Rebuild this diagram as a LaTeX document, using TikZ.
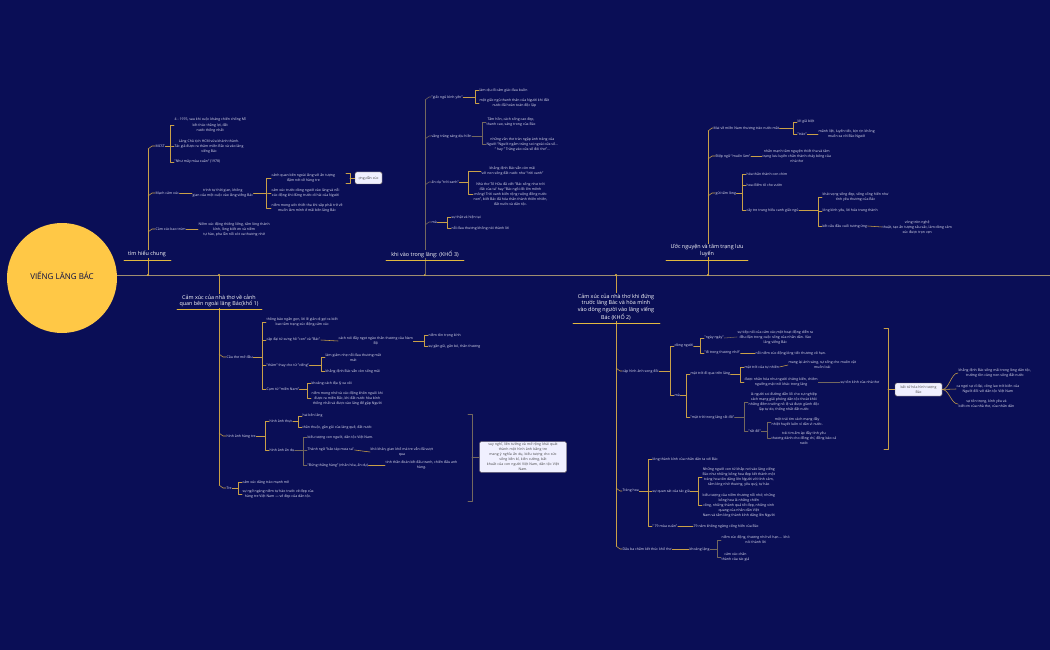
\documentclass[tikz,border=0pt]{standalone}
\usepackage{fontspec}
\setmainfont{Open Sans}
\usepackage{xcolor}
\usepackage{tikz}
\usetikzlibrary{positioning}

\definecolor{nenxanh}{RGB}{10,14,86}
\definecolor{vang}{RGB}{201,160,72}
\definecolor{vangdam}{RGB}{226,184,64}
\definecolor{xam}{RGB}{116,104,94}
\definecolor{truc}{RGB}{160,142,112}
\definecolor{chu}{RGB}{228,228,244}
\definecolor{tron}{RGB}{255,200,70}

\begin{document}
\begin{tikzpicture}[
    x=1pt, y=-1pt,
    line join=round,
    line cap=round
  ]

  \tikzset{
      nd/.style={text=chu, font=\fontsize{3.5}{5}\selectfont, align=center, inner sep=0.4pt, anchor=west},
      tieude/.style={text=white, font=\fontsize{5.4}{6.7}\selectfont, align=center, fill=nenxanh, inner sep=0.8pt},
      br/.style={draw=vang, line width=0.55pt},
      brx/.style={draw=xam, line width=0.55pt},
      gach/.style={draw=vangdam, line width=0.9pt},
      hop/.style={fill=white!94!blue, draw=xam, rounded corners=1.5pt, text=black!75,
                  font=\fontsize{3.5}{5}\selectfont, align=center, inner sep=1.5pt}
  }

  % 1. Nền và trục chính
  \useasboundingbox (0,0) rectangle (1050,650);
  \fill[nenxanh] (0,0) rectangle (1050,650);
  \draw[draw=truc, line width=0.8pt] (110,275) -- (1050,275);
  \fill[tron] (62,278) circle[radius=55];
  \node[text=nenxanh!80!black, font=\fontsize{8}{9}\selectfont] (goc) at (62,276) {VIẾNG LĂNG BÁC};
  \foreach \x in {148,425,708,219,616}
    \fill[vangdam] (\x,275) circle[radius=1.2];

  % 2. Nhánh "tìm hiểu chung"
  \coordinate (sA) at (148,0);
  \coordinate (bA1) at (170,0);
  \coordinate (bA2) at (266,0);
  \coordinate (bA3) at (350,0);
  \draw[br] (148,275) -- (148,149);
  \node[tieude] (tA) at (147,254) {tìm hiểu chung};
  \draw[gach] (124,260) -- (171,260);

  \node[nd] (mcst) at (155,146) {MCST};
  \node[nd] (a11) at (174,125) {4 - 1976, sau khi cuộc kháng chiến chống Mĩ\\kết thúc thắng lợi, đất\\nước thống nhất};
  \node[nd] (a12) at (174,146) {Lăng Chủ tịch HCM vừa khánh thành.\\Tác giả được ra thăm miền Bắc và vào lăng\\viếng Bác};
  \node[nd] (a13) at (174,162) {"Như mây mùa xuân" (1978)};
  \node[nd] (mach) at (155,193) {Mạch cảm xúc};
  \node[nd] (a21) at (192,193) {trình tự thời gian, không\\gian của một cuộc vào lăng viếng Bác};
  \node[nd] (a211) at (271,178) {cảnh quan bên ngoài lăng với ấn tượng\\đậm nét về hàng tre};
  \node[nd] (a212) at (271,193) {cảm xúc trước dòng người vào lăng và nỗi\\xúc động khi đứng trước di hài của Người};
  \node[nd] (a213) at (271,208) {niềm mong ước thiết tha khi sắp phải trở về\\muốn làm mình ở mãi bên lăng Bác};
  \node[hop, minimum width=27pt, minimum height=12pt] (gd) at (368.5,178) {ợng,dẫn xúc};
  \node[nd] (baotrum) at (155,229) {Cảm xúc bao trùm};
  \node[nd] (a31) at (198,229) {Niềm xúc động thiêng liêng, tấm lòng thành\\kính, lòng biết ơn và niềm\\tự hào, pha lẫn nỗi xót xa thương nhớ};

  \foreach \n in {mcst,mach,baotrum}
    \draw[br] ([yshift=-3pt]sA |- \n.west) -- ([xshift=4pt]sA |- \n.west) -- (\n.west);
  \foreach \n in {a11,a12,a13}
    \draw[br] (mcst.east) -- (mcst.east -| bA1) |- (\n.west);
  \draw[br] (mach.east) -- (a21.west);
  \foreach \n in {a211,a212,a213}
    \draw[br] (a21.east) -- (a21.east -| bA2) |- (\n.west);
  \draw[br] ([xshift=-4pt]bA3 |- a211.north) -- (bA3 |- a211.north) -- (bA3 |- a211.south) -- ([xshift=-4pt]bA3 |- a211.south);
  \draw[br] (bA3 |- gd.west) -- (gd.west);
  \draw[br] (baotrum.east) -- (a31.west);

  % 3. Nhánh "khi vào trong lăng" (khổ 3)
  \coordinate (sB) at (425,0);
  \coordinate (bB1) at (475,0);
  \coordinate (bB2) at (482,0);
  \coordinate (bB3) at (468,0);
  \coordinate (bB4) at (447,0);
  \draw[brx] (425,275) -- (425,100);
  \node[tieude] (tB) at (425,254) {khi vào trong lăng: (KHỔ 3)};
  \draw[gach] (386,260) -- (464,260);

  \node[nd] (giacngu) at (431,97) {"giấc ngủ bình yên"};
  \node[nd] (b11) at (479,90) {làm dịu đi cảm giác đau buồn};
  \node[nd] (b12) at (479,103) {một giấc ngủ thanh thản của Người khi đất\\nước đã hoàn toàn độc lập};
  \node[nd] (vangtrang) at (431,136) {vầng trăng sáng dịu hiền};
  \node[nd] (b21) at (486,122) {Tâm hồn, cách sống cao đẹp,\\thanh cao, sáng trong của Bác};
  \node[nd] (b22) at (486,144) {những vần thơ tràn ngập ánh trăng của\\Người "Người ngắm trăng soi ngoài cửa sổ...\\" hay " Trăng vào cửa sổ đòi thơ"...};
  \node[nd] (troixanh) at (431,182) {ẩn dụ "trời xanh"};
  \node[nd] (b31) at (481,171) {khẳng định Bác vẫn còn mãi\\với non sông đất nước như "trời xanh"};
  \node[nd] (b32) at (473,194) {Nhà thơ Tố Hữu đã viết "Bác sống như trời\\đất của ta" hay "Bác ngồi đó lớn mênh\\mông/ Trời xanh biển rộng ruộng đồng nước\\non", biết Bác đã hóa thân thành thiên nhiên,\\đất nước và dân tộc.};
  \node[nd] (maB) at (431,222) {mà};
  \node[nd] (b41) at (451,217) {sự thật và hiện tại};
  \node[nd] (b42) at (451,228) {nỗi đau thương không nói thành lời};

  \foreach \n in {giacngu,vangtrang,troixanh,maB}
    \draw[brx] ([yshift=-3pt]sB |- \n.west) -- ([xshift=4pt]sB |- \n.west) -- (\n.west);
  \foreach \n in {b11,b12}
    \draw[br] (giacngu.east) -- (giacngu.east -| bB1) |- (\n.west);
  \foreach \n in {b21,b22}
    \draw[brx] (vangtrang.east) -- (vangtrang.east -| bB2) |- (\n.west);
  \foreach \n in {b31,b32}
    \draw[br] (troixanh.east) -- (troixanh.east -| bB3) |- (\n.west);
  \foreach \n in {b41,b42}
    \draw[br] (maB.east) -- (maB.east -| bB4) |- (\n.west);

  % 4. Nhánh "Ước nguyện và tâm trạng lưu luyến"
  \coordinate (sC) at (708,0);
  \coordinate (bC1) at (793,0);
  \coordinate (bC3) at (742,0);
  \coordinate (bC33) at (818,0);
  \draw[br] (708,275) -- (708,131);
  \node[tieude] (tC) at (707,250.5) {Ước nguyện và tâm trạng lưu\\luyến};
  \draw[gach] (666,260) -- (748,260);

  \node[nd] (maive) at (713,128) {Mai về miền Nam thương trào nước mắt};
  \node[nd] (c11) at (797,122) {lời giã biệt};
  \node[nd] (c12) at (797,134) {"trào"};
  \node[nd] (c121) at (818,134) {mãnh liệt, luyến tiếc, bịn rịn không\\muốn xa rời Bác Người};
  \node[nd] (diepngu) at (715,156) {Điệp ngữ "muốn làm"};
  \node[nd] (c21) at (762,156) {nhấn mạnh tâm nguyện thiết tha và tâm\\trạng lưu luyến chân thành cháy bỏng của\\nhà thơ};
  \node[nd] (guitam) at (715,193) {gửi tấm lòng};
  \node[nd] (c31) at (746,174) {hóa thân thành con chim};
  \node[nd] (c32) at (746,185) {hoa điểm tô cho vườn};
  \node[nd] (c33) at (746,210) {cây tre trung hiếu canh giấc ngủ};
  \node[nd] (c331) at (822,197) {khát vọng sống đẹp, sống cống hiến như\\tình yêu thương của Bác};
  \node[nd] (c332) at (822,211) {lòng kính yêu, lời hứa trung thành};
  \node[nd] (c333) at (822,226) {kết cấu đầu cuối tương ứng};
  \node[nd] (c3331) at (882,227) {vòng tròn nghệ\\thuật, tạo ấn tượng sâu sắc, làm dòng cảm\\xúc được trọn vẹn};

  \foreach \n in {maive,diepngu,guitam}
    \draw[br] ([yshift=-3pt]sC |- \n.west) -- ([xshift=4pt]sC |- \n.west) -- (\n.west);
  \foreach \n in {c11,c12}
    \draw[br] (maive.east) -- (maive.east -| bC1) |- (\n.west);
  \draw[br] (c12.east) -- (c121.west);
  \draw[br] (diepngu.east) -- (c21.west);
  \foreach \n in {c31,c32,c33}
    \draw[br] (guitam.east) -- (guitam.east -| bC3) |- (\n.west);
  \foreach \n in {c331,c332,c333}
    \draw[br] (c33.east) -- (c33.east -| bC33) |- (\n.west);
  \draw[br] (c333.east) -- (c3331.west);

  % 5. Nhánh khổ 1
  \coordinate (sD) at (219,0);
  \coordinate (bD1) at (262,0);
  \coordinate (bD12) at (424,0);
  \coordinate (bD13) at (321,0);
  \coordinate (bD14) at (307,0);
  \coordinate (bD2) at (265,0);
  \coordinate (bD21) at (298,0);
  \coordinate (bD22) at (303,0);
  \coordinate (bD3) at (238,0);
  \draw[br] (219,275) -- (219,485);
  \node[tieude] (tD) at (219,301) {Cảm xúc của nhà thơ về cảnh\\quan bên ngoài lăng Bác(khổ 1)};
  \draw[gach] (177,309) -- (262,309);

  \node[nd] (cautho) at (226,357) {Câu thơ mở đầu};
  \node[nd] (d11) at (266,322) {thông báo ngắn gọn, lời lẽ giản dị gợi ra biết\\bao tâm trạng xúc động,cảm xúc};
  \node[nd] (d12) at (266,340) {cặp đại từ xưng hô "con" và "Bác"};
  \node[nd] (d121) at (338,341) {cách nói đầy ngọt ngào thân thương của Nam\\Bộ};
  \node[nd] (d1211) at (428,335) {niềm tôn trọng kính};
  \node[nd] (d1212) at (428,346) {sự gần gũi, gắn bó, thân thương};
  \node[nd] (d13) at (266,365) {"thăm" thay cho từ "viếng"};
  \node[nd] (d131) at (325,357) {làm giảm nhẹ nỗi đau thương mất\\mát};
  \node[nd] (d132) at (325,371) {khẳng định Bác vẫn còn sống mãi};
  \node[nd] (d14) at (266,389) {Cụm từ "miền Nam"};
  \node[nd] (d141) at (311,383) {khoảng cách địa lý xa xôi};
  \node[nd] (d142) at (311,398) {niềm mong nhớ và xúc động khôn nguôi khi\\được ra miền Bắc, khi đất nước hòa bình\\thống nhất và được vào lăng để gặp Người};

  \node[nd] (hangtre) at (226,436) {hình ảnh hàng tre};
  \node[nd] (d21) at (269,421) {hình ảnh thực};
  \node[nd] (d211) at (302,416) {hai bên lăng};
  \node[nd] (d212) at (302,427) {thân thuộc, gần gũi của làng quê, đất nước};
  \node[nd] (d22) at (269,450) {hình ảnh ẩn dụ};
  \node[nd] (d221) at (307,437) {biểu tượng con người, dân tộc Việt Nam.};
  \node[nd] (d222) at (307,450) {Thành ngữ "bão táp mưa sa"};
  \node[nd] (d2221) at (370,452) {khó khăn, gian khổ mà tre vẫn đã vượt\\qua};
  \node[nd] (d223) at (307,465) {"Đứng thẳng hàng" (nhân hóa, ẩn dụ)};
  \node[nd] (d2231) at (385,465) {tinh thần đoàn kết đấu tranh, chiến đấu anh\\hùng.};
  \node[nd] (tre) at (226,488) {Tre};
  \node[nd] (d31) at (242,482) {cảm xúc dâng trào mạnh mẽ};
  \node[nd] (d32) at (242,494) {sự ngỡ ngàng niềm tự hào trước vẻ đẹp của\\hàng tre Việt Nam --- vẻ đẹp của dân tộc.};
  \node[hop, text width=84pt] (khaiquat) at (523,457) {suy nghĩ, liên tưởng và mở rộng khái quát\\thành một hình ảnh bằng tre\\mang ý nghĩa ẩn dụ, biểu tượng cho sức\\sống bền bỉ, kiên cường, bất\\khuất của con người Việt Nam, dân tộc Việt\\Nam.};

  \foreach \n in {cautho,hangtre,tre}
    \draw[br] ([yshift=3pt]sD |- \n.west) -- ([xshift=4pt]sD |- \n.west) -- (\n.west);
  \foreach \n in {d11,d12,d13,d14}
    \draw[br] (cautho.east) -- (cautho.east -| bD1) |- (\n.west);
  \draw[br] (d12.east) -- (d121.west);
  \foreach \n in {d1211,d1212}
    \draw[br] (d121.east) -- (d121.east -| bD12) |- (\n.west);
  \foreach \n in {d131,d132}
    \draw[br] (d13.east) -- (d13.east -| bD13) |- (\n.west);
  \foreach \n in {d141,d142}
    \draw[br] (d14.east) -- (d14.east -| bD14) |- (\n.west);
  \foreach \n in {d21,d22}
    \draw[br] (hangtre.east) -- (hangtre.east -| bD2) |- (\n.west);
  \foreach \n in {d211,d212}
    \draw[br] (d21.east) -- (d21.east -| bD21) |- (\n.west);
  \foreach \n in {d221,d222,d223}
    \draw[brx] (d22.east) -- (d22.east -| bD22) |- (\n.west);
  \draw[br] (d222.east) -- (d2221.west);
  \draw[br] (d223.east) -- (d2231.west);
  \foreach \n in {d31,d32}
    \draw[br] (tre.east) -- (tre.east -| bD3) |- (\n.west);
  \draw[brx] (468,414) -- (472,414) -- (472,501) -- (468,501);
  \draw[brx] (472,457) -- (khaiquat.west);

  % 6. Nhánh khổ 2
  \coordinate (sE) at (616,0);
  \coordinate (bE1) at (670,0);
  \coordinate (bE11) at (700,0);
  \coordinate (bE12) at (686,0);
  \coordinate (bE121) at (740,0);
  \coordinate (bE122) at (744,0);
  \coordinate (bE1222) at (767,0);
  \coordinate (bE2) at (648,0);
  \coordinate (bE22) at (698,0);
  \coordinate (bE3) at (717,0);
  \draw[br] (616,275) -- (616,546);
  \node[tieude] (tE) at (616,307) {Cảm xúc của nhà thơ khi đứng\\trước lăng Bác và hòa mình\\vào dòng người vào lăng viếng\\Bác (KHỔ 2)};
  \draw[gach] (573,323) -- (660,323);

  \node[nd] (songdoi) at (622,371) {cặp hình ảnh song đôi};
  \node[nd] (dongnguoi) at (674,346) {dòng người};
  \node[nd] (e111) at (704,338) {"ngày ngày"};
  \node[nd] (e1111) at (737,337) {sự tiếp nối của cảm xúc,một hoạt động diễn ra\\đều đặn trong cuộc sống của nhân dân. Vào\\lăng viếng Bác};
  \node[nd] (e112) at (704,353) {"đi trong thương nhớ"};
  \node[nd] (e1121) at (755,353) {nỗi niềm xúc động,lòng tiếc thương vô hạn.};
  \node[nd] (maE) at (674,395) {mà};
  \node[nd] (e121) at (690,374) {mặt trời đi qua trên lăng};
  \node[nd] (e1211) at (744,367) {mặt trời của tự nhiên};
  \node[nd] (e12111) at (788,365) {mang lại ánh sáng, sự sống cho muôn vật\\muôn loài};
  \node[nd] (e1212) at (744,382) {được nhân hóa như người chứng kiến, chiêm\\ngưỡng,mặt trời khác trong lăng};
  \node[nd] (e12121) at (840,382) {sự tôn kính của nhà thơ};
  \node[nd] (e122) at (690,417) {"mặt trời trong lăng rất đỏ"};
  \node[nd] (e1221) at (748,402) {là người soi đường dẫn lối cho sự nghiệp\\cách mạng giải phóng dân tộc thoát khỏi\\những đêm trường nô lệ và được giành độc\\lập tự do, thống nhất đất nước};
  \node[nd] (e1222) at (748,431) {"rất đỏ"};
  \node[nd] (e12221) at (771,422) {một trái tim cách mạng đầy\\nhiệt huyết luôn vì dân vì nước.};
  \node[nd] (e12222) at (771,438) {trái tim ấm áp đầy tình yêu\\thương dành cho đồng chí, đồng bào cả\\nước};
  \node[hop, minimum width=47pt, minimum height=13pt] (battu) at (918.5,389.5) {bất tử hóa hình tượng\\Bác};
  \node[nd] (f1) at (958,373) {khẳng định Bác sống mãi trong lòng dân tộc,\\trường tồn cùng non sông đất nước};
  \node[nd] (f2) at (956,389) {ca ngợi sự vĩ đại, công lao trời biển của\\Người đối với dân tộc Việt Nam};
  \node[nd] (f3) at (958,404) {sự tôn trọng, kính yêu và\\biết ơn của nhà thơ, của nhân dân};

  \node[nd] (tranghoa) at (622,491) {Tràng hoa};
  \node[nd] (e21) at (652,459) {lòng thành kính của nhân dân ta với Bác};
  \node[nd] (e22) at (652,491) {sự quan sát của tác giả};
  \node[nd] (e221) at (702,477) {Những người con từ khắp nơi vào lăng viếng\\Bác như những bông hoa đẹp kết thành một\\tràng hoa tôn dâng lên Người với tình cảm,\\tấm lòng nhớ thương, yêu quý, tự hào};
  \node[nd] (e222) at (702,505) {biểu tượng của niềm thương nỗi nhớ, những\\bông hoa là những chiến\\công, những thành quả tốt đẹp, những vinh\\quang của nhân dân Việt\\Nam và tấm lòng thành kính dâng lên Người};
  \node[nd] (e23) at (652,526) {" 79 mùa xuân"};
  \node[nd] (e231) at (693,526) {79 năm không ngừng cống hiến của Bác};
  \node[nd] (dauba) at (622,549) {Dấu ba chấm kết thúc khổ thơ};
  \node[nd] (khoanglang) at (689,549) {khoảng lặng};
  \node[nd] (e311) at (721,540) {niềm xúc động, thương nhớ vô hạn.... khó\\nói thành lời};
  \node[nd] (e312) at (721,557) {cảm xúc chân\\thành của tác giả};

  \foreach \n in {songdoi,tranghoa,dauba}
    \draw[br] ([yshift=3pt]sE |- \n.west) -- ([xshift=4pt]sE |- \n.west) -- (\n.west);
  \foreach \n in {dongnguoi,maE}
    \draw[br] (songdoi.east) -- (songdoi.east -| bE1) |- (\n.west);
  \foreach \n in {e111,e112}
    \draw[br] (dongnguoi.east) -- (dongnguoi.east -| bE11) |- (\n.west);
  \draw[brx] (e111.east) -- (e1111.west);
  \draw[br] (e112.east) -- (e1121.west);
  \foreach \n in {e121,e122}
    \draw[br] (maE.east) -- (maE.east -| bE12) |- (\n.west);
  \foreach \n in {e1211,e1212}
    \draw[br] (e121.east) -- (e121.east -| bE121) |- (\n.west);
  \draw[br] (e1211.east) -- (e12111.west);
  \draw[brx] (e1212.east) -- (e12121.west);
  \foreach \n in {e1221,e1222}
    \draw[brx] (e122.east) -- (e122.east -| bE122) |- (\n.west);
  \foreach \n in {e12221,e12222}
    \draw[brx] (e1222.east) -- (e1222.east -| bE1222) |- (\n.west);
  \draw[br] (884,328) -- (888,328) -- (888,449) -- (884,449);
  \draw[br] (888,389.5) -- (battu.west);
  \foreach \n in {f1,f2,f3}
    \draw[br] (battu.east) .. controls +(7,0) and +(-7,0) .. (\n.west);
  \foreach \n in {e21,e22,e23}
    \draw[br] (tranghoa.east) -- (tranghoa.east -| bE2) |- (\n.west);
  \foreach \n in {e221,e222}
    \draw[br] (e22.east) -- (e22.east -| bE22) |- (\n.west);
  \draw[br] (e23.east) -- (e231.west);
  \draw[br] (dauba.east) -- (khoanglang.west);
  \foreach \n in {e311,e312}
    \draw[brx] (khoanglang.east) -- (khoanglang.east -| bE3) |- (\n.west);

\end{tikzpicture}
\end{document}
